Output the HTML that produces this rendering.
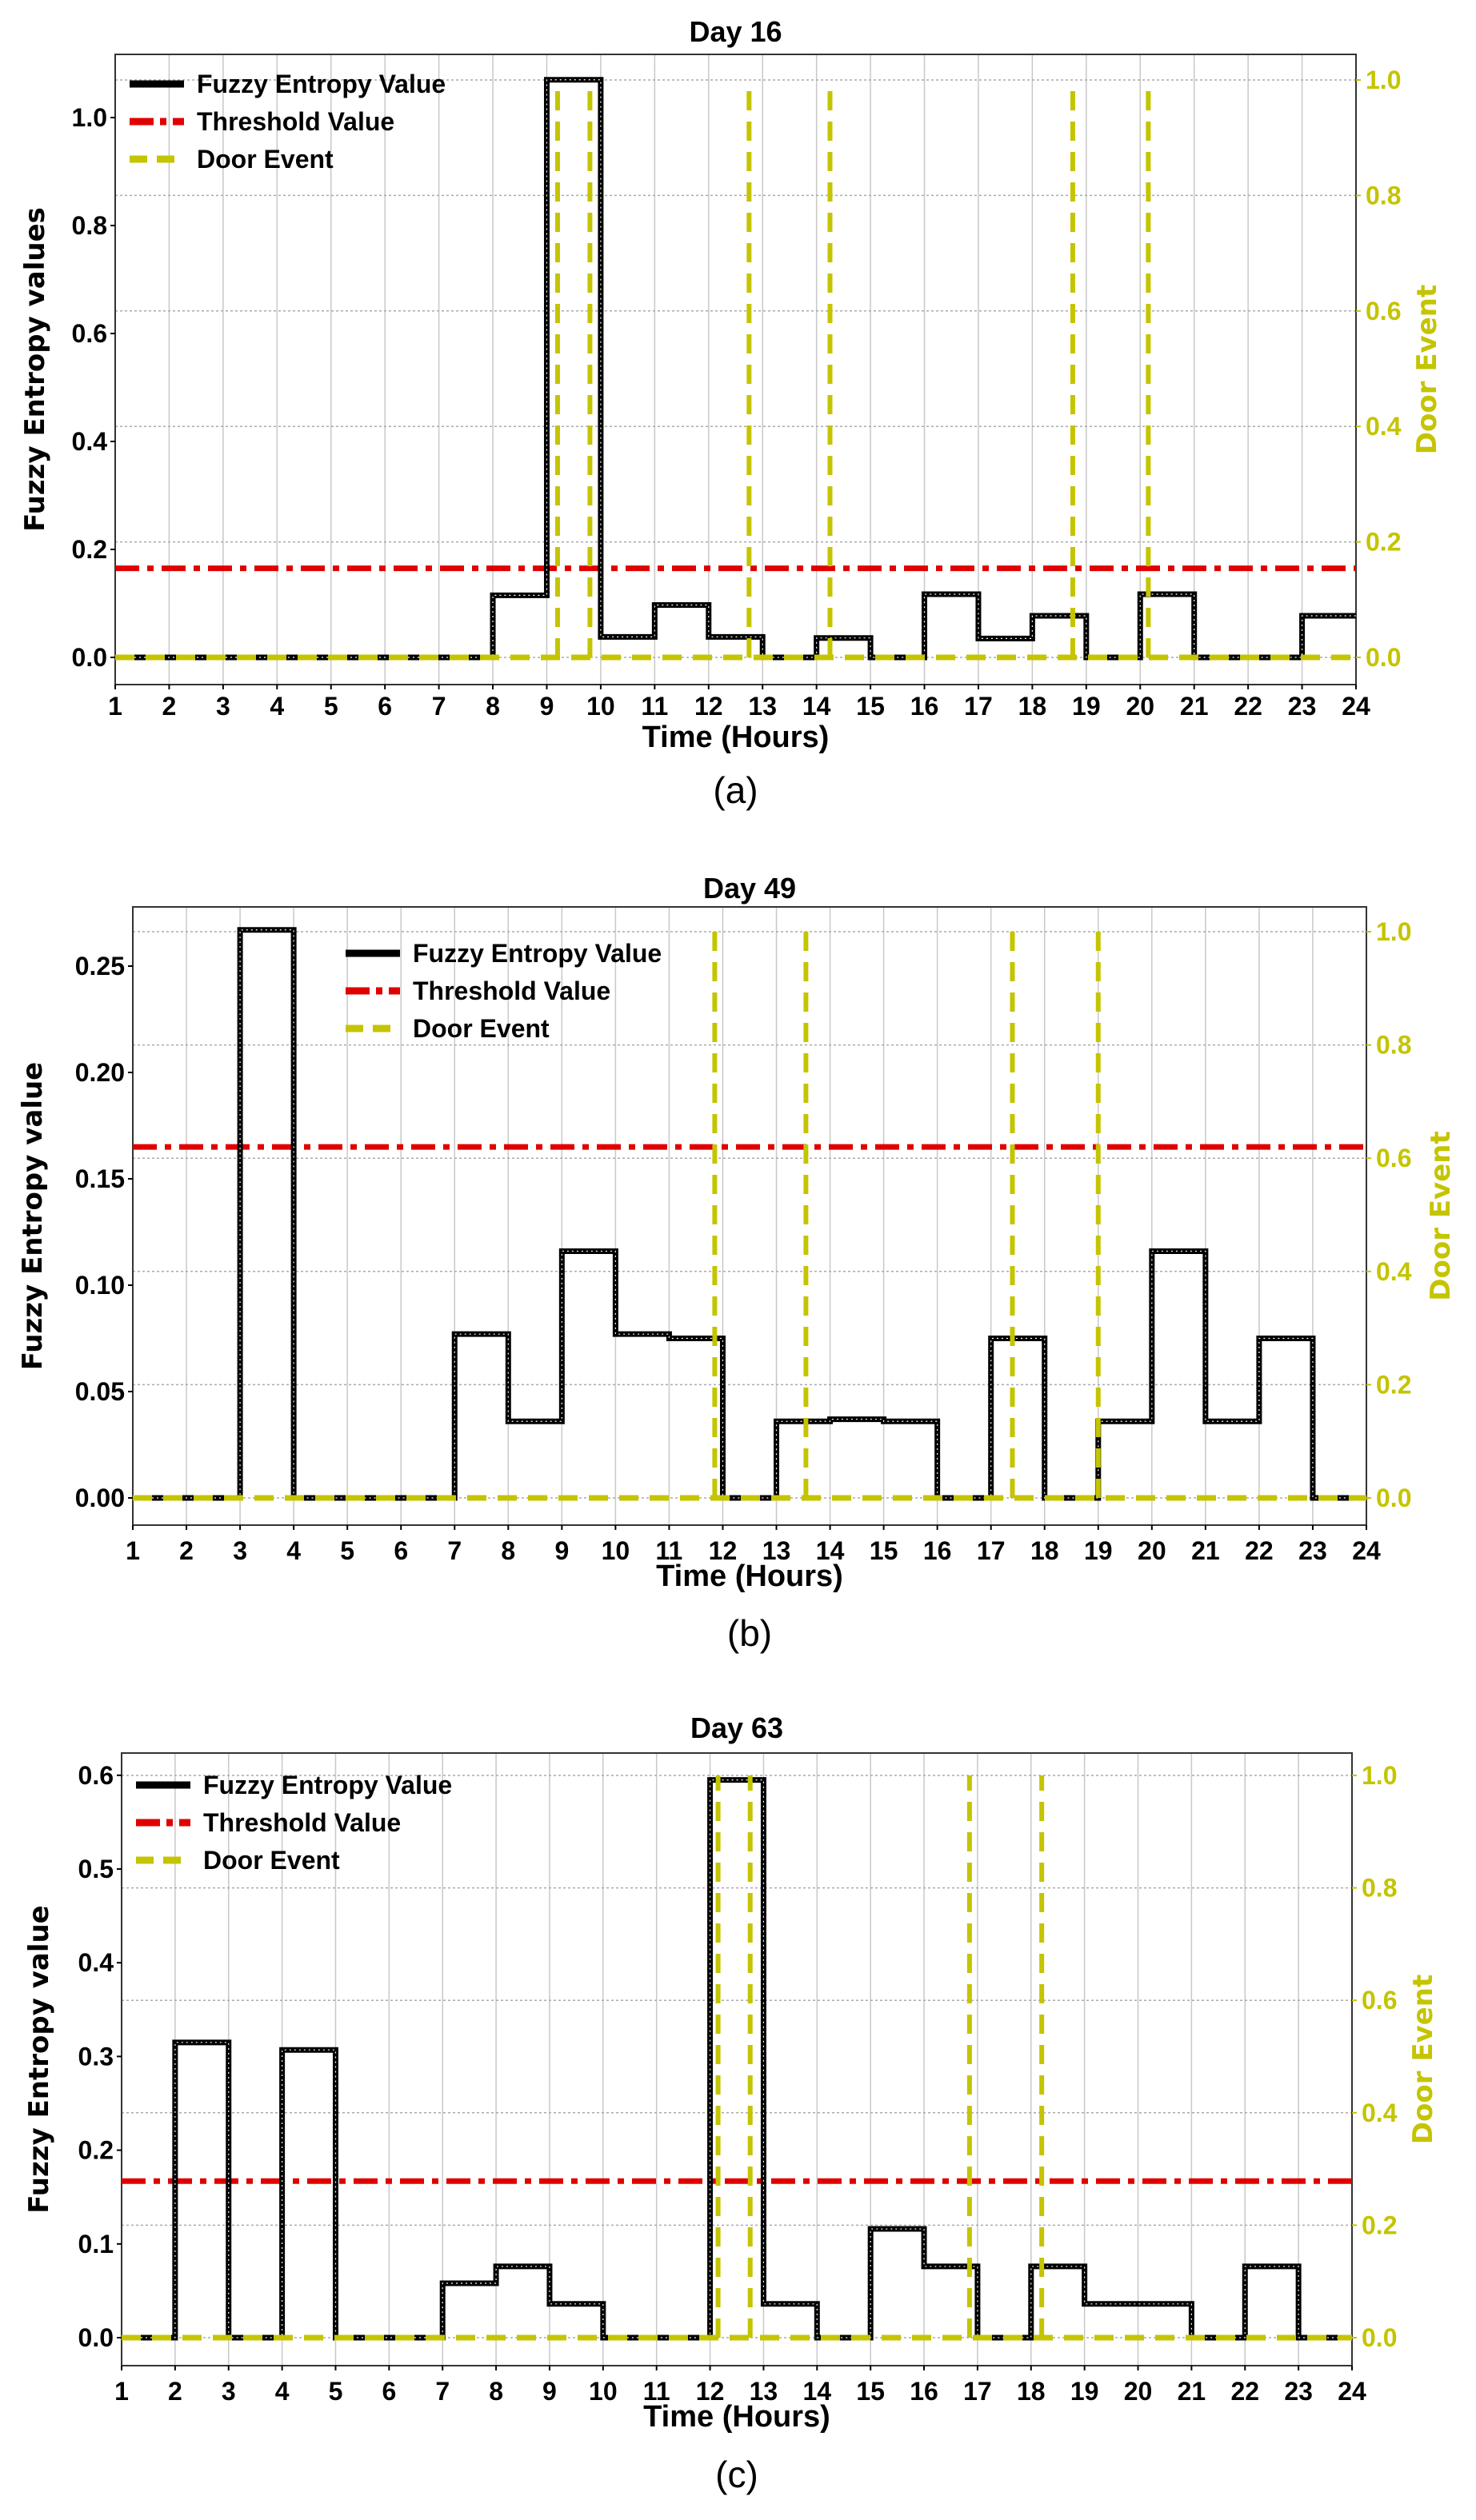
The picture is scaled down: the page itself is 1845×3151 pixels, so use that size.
<!DOCTYPE html>
<html><head><meta charset="utf-8"><style>
html,body{margin:0;padding:0;background:#fff;}
svg{display:block;}
text{font-family:"Liberation Sans Narrow","Liberation Sans",sans-serif;font-weight:bold;}
</style></head><body>
<svg id="fig" width="1845" height="3151" viewBox="0 0 1845 3151" xmlns="http://www.w3.org/2000/svg"></svg>
<script>
const hours = [1,2,3,4,5,6,7,8,9,10,11,12,13,14,15,16,17,18,19,20,21,22,23,24];
const xTickLabels = ["1","2","3","4","5","6","7","8","9","10","11","12","13","14","15","16","17","18","19","20","21","22","23","24"];
const doorTicks = [0.0,0.2,0.4,0.6,0.8,1.0];
const doorTickLabels = ["0.0","0.2","0.4","0.6","0.8","1.0"];

const aValues = [0,0,0,0,0,0,0,0.115,1.07,0.038,0.097,0.038,0,0.036,0,0.117,0.035,0.077,0,0.117,0,0,0.077];
const aThreshold = 0.165;
const aDoors = [9.2,9.8,12.75,14.25,18.75,20.15];
const aYTicks = [0.0,0.2,0.4,0.6,0.8,1.0];
const aYTickLabels = ["0.0","0.2","0.4","0.6","0.8","1.0"];

const bValues = [0,0,0.267,0,0,0,0.077,0.036,0.116,0.077,0.075,0,0.036,0.037,0.036,0,0.075,0,0.036,0.116,0.036,0.075,0];
const bThreshold = 0.165;
const bDoors = [11.85,13.55,17.4,19.0];
const bYTicks = [0.00,0.05,0.10,0.15,0.20,0.25];
const bYTickLabels = ["0.00","0.05","0.10","0.15","0.20","0.25"];

const cValues = [0,0.315,0,0.307,0,0,0.058,0.076,0.036,0,0,0.595,0.036,0,0.116,0.076,0,0.076,0.036,0.036,0,0.076,0];
const cThreshold = 0.167;
const cDoors = [12.15,12.75,16.85,18.2];
const cYTicks = [0.0,0.1,0.2,0.3,0.4,0.5,0.6];
const cYTickLabels = ["0.0","0.1","0.2","0.3","0.4","0.5","0.6"];

const NS="http://www.w3.org/2000/svg";
const svg=document.getElementById('fig');
const YEL="#c4c400";
function mk(tag,attrs,parent){const e=document.createElementNS(NS,tag);for(const k in attrs)e.setAttribute(k,attrs[k]);(parent||svg).appendChild(e);return e;}
function txt(s,attrs,parent){const e=mk('text',attrs,parent);e.textContent=s;return e;}

function chart(cfg){
  const g=mk('g',{});
  
  
  const L=cfg.left,R=cfg.right,T=cfg.top,B=cfg.bottom;
  const xs=h=>L+(h-1)/23*(R-L);
  const ys=v=>cfg.y0-v*cfg.yScale;
  const yd=v=>cfg.y0-v*(cfg.y0-cfg.door1);
  hours.forEach(h=>{const l=mk('line',{x1:xs(h),x2:xs(h),y1:T,y2:B,stroke:'#c8c8c8','stroke-width':1.5},g);
    
    });
  doorTicks.forEach(v=>{const l=mk('line',{x1:L,x2:R,y1:yd(v),y2:yd(v),stroke:'#aaa','stroke-width':1.5,'stroke-dasharray':'3 3'},g);
    
    });
  const fr=mk('rect',{x:L,y:T,width:R-L,height:B-T,fill:'none',stroke:'#333','stroke-width':2},g);
  
  
  const th=mk('line',{x1:L,x2:R,y1:ys(cfg.threshold),y2:ys(cfg.threshold),stroke:'#e00000','stroke-width':7,'stroke-dasharray':'30 10 8 10'},g);
  
  
  let d='M'+xs(1)+' '+ys(cfg.values[0]);
  cfg.values.forEach((v,i)=>{d+=' L'+xs(hours[i])+' '+ys(v)+' L'+xs(hours[i+1])+' '+ys(v);});
  const fz=mk('path',{d:d,fill:'none',stroke:'#000','stroke-width':7,'stroke-linejoin':'miter'},g);
  
  
  const fz2=mk('path',{d:d,fill:'none',stroke:'#fff','stroke-width':1.2,'stroke-dasharray':'2 4'},g);
  
  
  const db=mk('line',{x1:L,x2:R,y1:yd(0),y2:yd(0),stroke:YEL,'stroke-width':7,'stroke-dasharray':'24 14'},g);
  
  
  cfg.doors.forEach(h=>{const l=mk('line',{x1:xs(h),x2:xs(h),y1:yd(0),y2:yd(1),stroke:YEL,'stroke-width':6,'stroke-dasharray':'24 14'},g);
    
    });
  hours.forEach((h,i)=>{mk('line',{x1:xs(h),x2:xs(h),y1:B,y2:B+6,stroke:'#000','stroke-width':2},g);
    const t=txt(xTickLabels[i],{x:xs(h),y:cfg.xTickY,'font-size':32,'text-anchor':'middle',fill:'#000'},g);
    
    });
  cfg.yTicks.forEach((v,i)=>{mk('line',{x1:L-6,x2:L,y1:ys(v),y2:ys(v),stroke:'#000','stroke-width':2},g);
    const t=txt(cfg.yTickLabels[i],{x:L-10,y:ys(v)+11,'font-size':32,'text-anchor':'end',fill:'#000'},g);
    
    });
  doorTicks.forEach((v,i)=>{mk('line',{x1:R,x2:R+6,y1:yd(v),y2:yd(v),stroke:YEL,'stroke-width':2},g);
    const t=txt(doorTickLabels[i],{x:R+12,y:yd(v)+11,'font-size':32,fill:YEL},g);
    
    });
  const ti=txt(cfg.title,{x:(L+R)/2,y:cfg.titleY,'font-size':36,'text-anchor':'middle',fill:'#000'},g);
  
  
  const xl=txt('Time (Hours)',{x:(L+R)/2,y:cfg.xLabelY,'font-size':38,'text-anchor':'middle',fill:'#000'},g);
  
  
  const cy=(T+B)/2;
  const yl=txt(cfg.yLabel,{x:0,y:0,'font-size':34,'text-anchor':'middle',fill:'#000',transform:`translate(${cfg.yLabelX},${cy}) rotate(-90)`,style:'font-family:"DejaVu Sans",sans-serif'},g);
  
  
  const rl=txt('Door Event',{x:0,y:0,'font-size':34,'text-anchor':'middle',fill:YEL,transform:`translate(${cfg.rLabelX},${cy}) rotate(-90)`,style:'font-family:"DejaVu Sans",sans-serif'},g);
  
  
  const lx=cfg.legX,ly=cfg.legY,sp=47;
  const items=[['Fuzzy Entropy Value','#000','none',9],['Threshold Value','#e00000','30 8 8 8',9],['Door Event',YEL,'22 12',9]];
  items.forEach((it,i)=>{const y=ly+i*sp;
    const l=mk('line',{x1:lx,x2:lx+68,y1:y,y2:y,stroke:it[1],'stroke-width':it[3],'stroke-dasharray':it[2]},g);
    
    
    const t=txt(it[0],{x:lx+84,y:y+11,'font-size':32,fill:'#000'},g);
    
    });
  const cap=txt(cfg.caption,{x:(L+R)/2,y:cfg.capY,'font-size':46,'text-anchor':'middle',fill:'#000',style:'font-weight:normal;font-family:"Liberation Sans",sans-serif'},g);
  
  
}

chart({name:'chart-day-16',title:'Day 16',caption:'(a)',left:144,right:1695,top:68,bottom:856,y0:822,yScale:675,door1:100,
  values:aValues,threshold:aThreshold,doors:aDoors,yTicks:aYTicks,yTickLabels:aYTickLabels,
  xTickY:894,titleY:52,xLabelY:934,capY:1004,yLabelX:55,rLabelX:1795,legX:162,legY:105,yLabel:'Fuzzy Entropy values'});
chart({name:'chart-day-49',title:'Day 49',caption:'(b)',left:166,right:1708,top:1134,bottom:1907,y0:1873,yScale:2660,door1:1165,
  values:bValues,threshold:bThreshold,doors:bDoors,yTicks:bYTicks,yTickLabels:bYTickLabels,
  xTickY:1950,titleY:1123,xLabelY:1983,capY:2058,yLabelX:52,rLabelX:1812,legX:432,legY:1192,yLabel:'Fuzzy Entropy value'});
chart({name:'chart-day-63',title:'Day 63',caption:'(c)',left:152,right:1690,top:2192,bottom:2958,y0:2923,yScale:1172,door1:2220,
  values:cValues,threshold:cThreshold,doors:cDoors,yTicks:cYTicks,yTickLabels:cYTickLabels,
  xTickY:3001,titleY:2173,xLabelY:3034,capY:3110,yLabelX:60,rLabelX:1790,legX:170,legY:2232,yLabel:'Fuzzy Entropy value'});
</script>
</body></html>
